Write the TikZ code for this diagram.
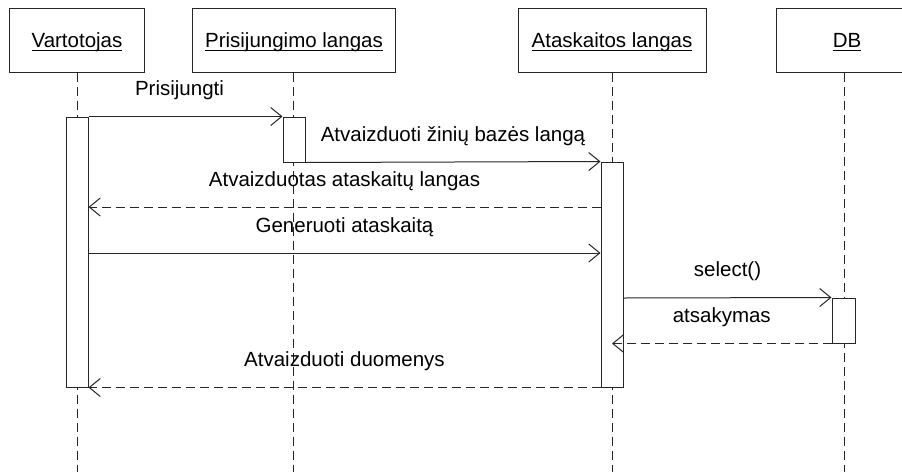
\documentclass[tikz,border=0pt]{standalone}
\usepackage{fontspec}
\setmainfont{Liberation Sans}
\usetikzlibrary{arrows.meta}
% underlined object name for the lifeline heads
\newcommand\objname[1]{\setbox0\hbox{#1}\rlap{\rule[-4pt]{\wd0}{1pt}}\box0}
\begin{document}
\begin{tikzpicture}[x=1pt,y=-1pt,
  font=\fontsize{20.5}{24}\selectfont,
  linec/.style={draw=black!85, line width=1pt},
  head/.style={linec, rectangle, minimum height=64pt, inner sep=0pt,
    text height=14pt, text depth=0pt, fill=white},
  bar/.style={linec, rectangle, fill=white, minimum width=22pt, inner sep=0pt},
  life/.style={linec, dash pattern=on 9pt off 5pt},
  call/.style={linec, -{Straight Barb[length=11pt,width=18pt,line width=1pt]}},
  reply/.style={call, dash pattern=on 9pt off 5pt},
  lbl/.style={anchor=base, yshift=21pt, inner sep=0pt}]
\useasboundingbox (0,0) rectangle (902,472);
\clip (0,0) rectangle (902,472);
\fill[white] (0,0) rectangle (902,472);

% object heads (the DB head runs past the right margin)
\node[head, minimum width=135pt] (vart) at (77,40) {\objname{Vartotojas}};
\node[head, minimum width=203pt] (pris) at (294,40) {\objname{Prisijungimo langas}};
\node[head, minimum width=188pt] (atas) at (612,40) {\objname{Ataskaitos langas}};
\node[head, minimum width=142pt] (db)   at (847,40) {\objname{DB}};

% lifelines
\coordinate (vend) at (77,472);
\coordinate (pend) at (293,472);
\coordinate (aend) at (612,472);
\coordinate (dend) at (844,472);
\draw[life] (vart.south) -- (vend);
\draw[life] (pris.south -| pend) -- (pend);
\draw[life] (atas.south) -- (aend);
\draw[life] (db.south -| dend) -- (dend);

% activation bars
\node[bar, minimum height=270pt] (vbar) at (77,252) {};
\node[bar, minimum height=45pt]  (pbar) at (294,139.5) {};
\node[bar, minimum height=225pt] (abar) at (612,274.5) {};
\node[bar, minimum height=45pt, minimum width=23pt] (dbar) at (843.5,320.5) {};

% message levels
\coordinate (m3) at (0,207);
\coordinate (m4) at (0,253);
\coordinate (m5) at (0,298);

% messages
\draw[call] (vbar.north east) -- node[lbl, xshift=-6pt] {Prisijungti} (pbar.north west);
\draw[call] (pbar.south east) -- node[lbl] {Atvaizduoti žinių bazės langą} (abar.north west);
\draw[reply] (abar.west |- m3) -- node[lbl] {Atvaizduotas ataskaitų langas} (vbar.east |- m3);
\draw[call] (vbar.east |- m4) -- node[lbl] {Generuoti ataskaitą} (abar.west |- m4);
\draw[call] (abar.east |- m5) -- node[lbl] {select()} (dbar.north west);
\draw[reply] (dbar.south west) -- node[lbl] {atsakymas} (abar.center |- dbar.south);
\draw[reply] (abar.south west) -- node[lbl] {Atvaizduoti duomenys} (vbar.south east);
\end{tikzpicture}
\end{document}
